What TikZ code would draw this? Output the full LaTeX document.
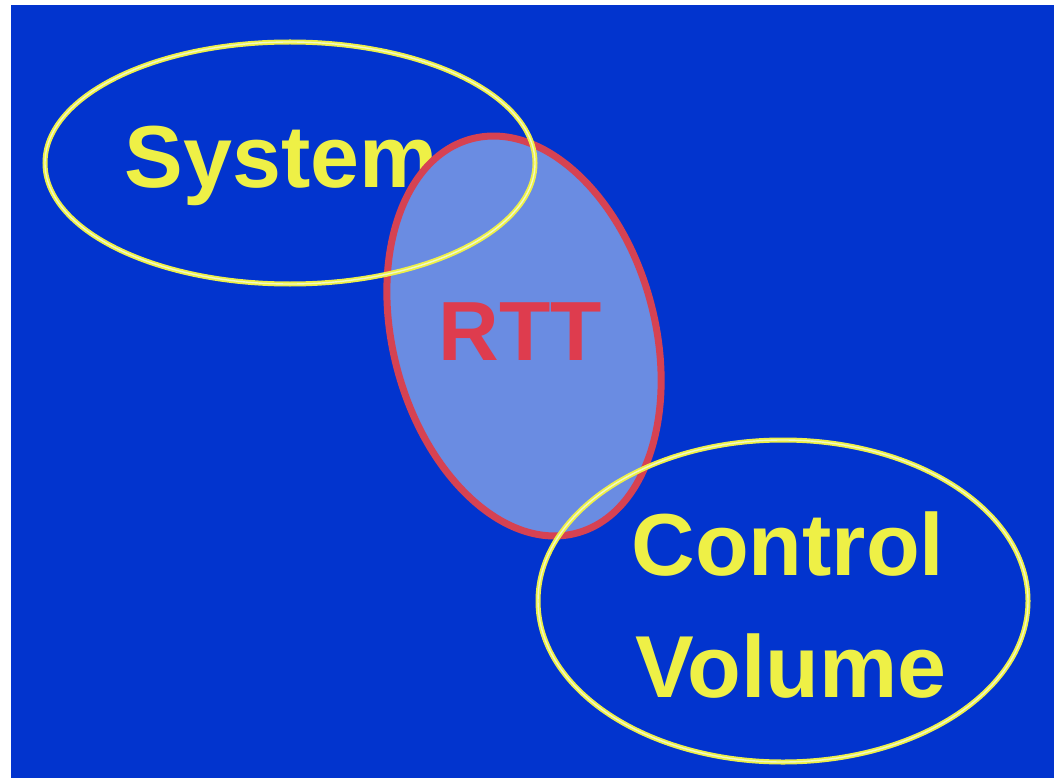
\documentclass[tikz,border=0pt]{standalone}
\usepackage{fontspec}
\setmainfont{Liberation Sans}
\usetikzlibrary{shapes.geometric}
\definecolor{bgblue}{RGB}{2,52,206}
\definecolor{ylw}{RGB}{238,240,70}
\definecolor{paleylw}{RGB}{240,248,200}
\definecolor{rttfill}{RGB}{106,140,226}
\definecolor{rttred}{RGB}{214,66,82}
\definecolor{rtttext}{RGB}{222,60,78}
\tikzset{
  ylwring/.style={ellipse, inner sep=0pt, outer sep=0pt, draw=ylw, line width=5pt,
    postaction={draw=paleylw, line width=1.4pt}},
  rttring/.style={ellipse, inner sep=0pt, outer sep=0pt, fill=rttfill, draw=rttred, line width=7pt},
  bigtext/.style={anchor=base, inner sep=0pt, font=\fontsize{88}{100}\selectfont\bfseries},
}
\begin{document}
\begin{tikzpicture}[x=1pt,y=-1pt]
  \fill[white] (0,0) rectangle (1054,778);
  \fill[bgblue] (11,5) rectangle (1054,778);
  \useasboundingbox (0,0) rectangle (1054,778);
  % System label (beneath the RTT ellipse)
  \node[bigtext, text=ylw] (systxt) at (281,188) {System};
  % RTT ellipse
  \node[rttring, minimum width=262pt, minimum height=408pt, rotate=15] (rtt) at (524,336) {};
  % Yellow ellipses
  \node[ylwring, minimum width=490pt, minimum height=242pt] (sys) at (290,163) {};
  \node[ylwring, minimum width=490pt, minimum height=322pt] (cv) at (783,601) {};
  % Labels
  \node[bigtext, text=rtttext, font=\fontsize{84}{100}\selectfont\bfseries] (rtttxt) at (520,360) {RTT};
  \node[bigtext, text=ylw] (cvtxt1) at (788,575) {Control};
  \node[bigtext, text=ylw] (cvtxt2) at (791,697) {Volume};
\end{tikzpicture}
\end{document}
